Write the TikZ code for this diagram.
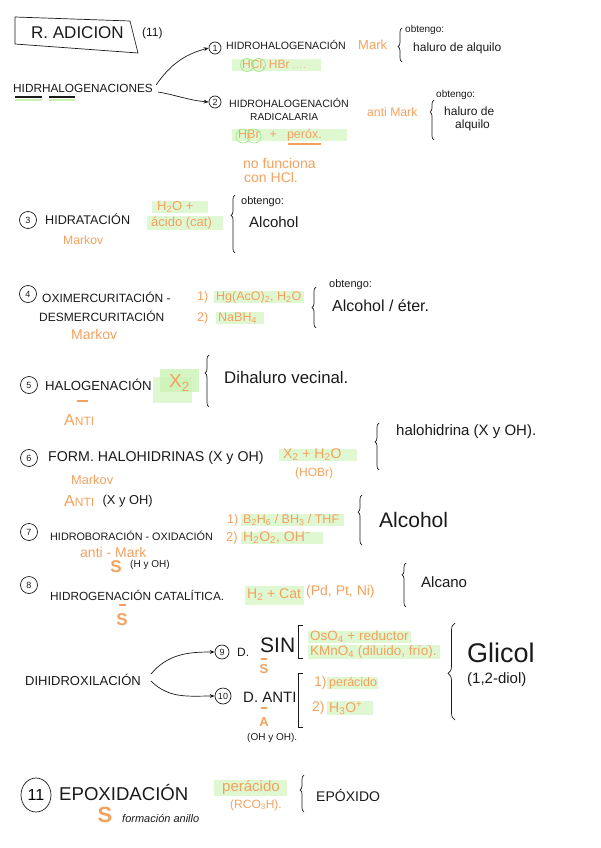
\documentclass[tikz,border=0pt]{standalone}
\usepackage{fontspec}
\setmainfont{Liberation Sans}
\usepackage{tikz}
\usetikzlibrary{arrows.meta,positioning,decorations.pathreplacing,shapes.geometric}
\definecolor{adink}{HTML}{1A1A1A}
\definecolor{adorange}{HTML}{F4A15E}
\definecolor{adlime}{HTML}{E0F8D2}
\definecolor{adlimedark}{HTML}{CBF2B4}
\definecolor{adringc}{HTML}{A6E58A}
\newcommand{\adfs}[1]{\fontsize{#1}{#1}\selectfont}
\newcommand{\adpad}[2]{\makebox[#1][l]{#2}}
\tikzset{
  adtxt/.style={text=adink,inner sep=0pt,anchor=west},
  adnote/.style={adtxt,text=adorange},
  adhl/.style={adnote,fill=adlime,inner xsep=2pt,inner ysep=0.5pt},
  adnum/.style={circle,draw=adink,line width=0.7pt,inner sep=0pt,text=adink,font=\adfs{9}},
  adflow/.style={-{Stealth[length=5pt,width=4pt]},adink,line width=0.7pt},
  adbrace/.style={decorate,decoration={brace,amplitude=4pt,aspect=#1},adink,line width=0.7pt},
  adbrace/.default=0.5,
  adbar/.style={adorange,line width=1.2pt},
  adring/.style={draw=adringc,line width=0.7pt},
  adbrack/.style={adink,line width=0.7pt}
}
\begin{document}
\begin{tikzpicture}[x=1pt,y=-1pt]
  \useasboundingbox (0,0) rectangle (600,848);

  \draw[adbrack] (15,17) -- (130,21) -- (138,53) -- (15,44) -- cycle;
  \node[adtxt,font=\adfs{17}] (title) at (31,33) {R. ADICION};
  \node[adtxt,font=\adfs{12}] (count) at (142,33) {(11)};

  \node[adtxt,font=\adfs{11.8}] (hidr) at (13,88) {HIDRHALOGENACIONES};
  \draw[adlimedark,line width=2pt] (15,100) -- (42,100) (49,100) -- (75,100);
  \draw[adink,line width=1.2pt] (15,97) -- (42,97) (49,97) -- (75,97);

  \node[adnum,minimum size=12pt] (n1) at (215,48) {1};
  \node[adtxt,font=\adfs{10.6}] (hh1) at (226,45) {HIDROHALOGENACIÓN};
  \node[adnote,font=\adfs{13}] (mark1) at (358,45) {Mark};
  \draw[adbrace=0.45] (402,62) -- (402,28);
  \node[adtxt,font=\adfs{10}] (obt1) at (405,30) {obtengo:};
  \node[adtxt,font=\adfs{12}] (halur1) at (413,48) {haluro de alquilo};
  \node[adhl,font=\adfs{12}] (hcl) at (232,65)
    {\adpad{85pt}{\hspace*{8pt}HCl, HBr {\adfs{8}.\,.\,.\,.}}};
  \draw[adring] (247,65) circle (6.5) (259,65) circle (6.5);

  \node[adnum,minimum size=12pt] (n2) at (215,102) {2};
  \node[adtxt,font=\adfs{10.6}] (hh2) at (229,103) {HIDROHALOGENACIÓN};
  \node[adtxt,font=\adfs{10.2}] (radic) at (250,117) {RADICALARIA};
  \node[adnote,font=\adfs{12.2}] (amark2) at (367,112) {anti Mark};
  \draw[adbrace=0.7] (434,140) -- (434,100);
  \node[adtxt,font=\adfs{10}] (obt2) at (436,95) {obtengo:};
  \node[adtxt,font=\adfs{12}] (halur2) at (444,111) {haluro de};
  \node[adtxt,font=\adfs{12}] (alq2) at (455,125) {alquilo};
  \node[adhl,font=\adfs{12.5}] (hbr) at (232,135)
    {\adpad{111pt}{\hspace*{4pt}HBr\hspace{10pt}+\hspace{10pt}peróx.}};
  \draw[adring] (243,136) circle (7) (254,136) circle (7);
  \draw[adbar] (288,144) -- (321,144);
  \node[adnote,font=\adfs{14}] (nofunc) at (243,163) {no funciona};
  \node[adnote,font=\adfs{14}] (conhcl) at (244,177) {con HCl.};

  \draw[adflow] ([xshift=3pt,yshift=3pt]hidr.east) to[out=55,in=195] (n1.west);
  \draw[adflow] ([xshift=5pt,yshift=-4pt]hidr.east) to[out=-10,in=175] (n2.west);

  \node[adnum,minimum size=17pt] (n3) at (28,220) {3};
  \node[adtxt,font=\adfs{12.6}] (hidrat) at (45,219) {HIDRATACIÓN};
  \node[adnote,font=\adfs{12.2}] (mk3) at (63,240) {Markov};
  \node[adhl,font=\adfs{13}] (h2o3) at (152,207) {\adpad{52pt}{\hspace*{3pt}H\textsubscript{2}O +}};
  \node[adhl,font=\adfs{13}] (acid3) at (147,223) {\adpad{72pt}{\hspace*{2pt}ácido (cat)}};
  \draw[adbrace=0.65] (235,253) -- (235,195);
  \node[adtxt,font=\adfs{11}] (obt3) at (241,202) {obtengo:};
  \node[adtxt,font=\adfs{15}] (alc3) at (249,222) {Alcohol};

  \node[adnum,minimum size=17pt] (n4) at (28,294) {4};
  \node[adtxt,font=\adfs{12}] (oxim) at (42,297) {OXIMERCURITACIÓN -};
  \node[adtxt,font=\adfs{12}] (desm) at (39,316) {DESMERCURITACIÓN};
  \node[adnote,font=\adfs{14}] (mk4) at (71,334) {Markov};
  \node[adnote,font=\adfs{12.5}] (st41) at (197,297) {1)};
  \node[adhl,font=\adfs{12.5}] (hg4) at (214,297) {\adpad{86pt}{Hg(AcO)\textsubscript{2}, H\textsubscript{2}O}};
  \node[adnote,font=\adfs{12.5}] (st42) at (197,318) {2)};
  \node[adhl,font=\adfs{12.5}] (nabh4) at (216,318) {\adpad{44pt}{NaBH\textsubscript{4}}};
  \draw[adbrace] (316,328) -- (316,287);
  \node[adtxt,font=\adfs{11}] (obt4) at (329,285) {obtengo:};
  \node[adtxt,font=\adfs{16}] (alc4) at (332,306) {Alcohol / éter.};

  \node[adnum,minimum size=17pt] (n5) at (29,385) {5};
  \node[adtxt,font=\adfs{13.2}] (halog) at (45,385) {HALOGENACIÓN};
  \fill[adlime] (153,377) rectangle (192,403);
  \fill[adlimedark,opacity=0.8] (160,369) rectangle (199,392);
  \node[adnote,font=\adfs{19}] (x5) at (169,383) {X\textsubscript{2}};
  \draw[adbrace=0.65] (209,407) -- (209,355);
  \node[adtxt,font=\adfs{16.8}] (dihal) at (224,377) {Dihaluro vecinal.};
  \draw[adbar] (77,401) -- (88,401);
  \node[adnote,font=\adfs{16}] (anti5) at (64,420) {A{\adfs{12}NTI}};

  \node[adnum,minimum size=17pt] (n6) at (29,458) {6};
  \node[adtxt,font=\adfs{14.2}] (form6) at (48,458) {FORM. HALOHIDRINAS (X y OH)};
  \node[adhl,font=\adfs{14}] (x2h2o) at (279,455) {\adpad{74pt}{\hspace*{2pt}X\textsubscript{2} + H\textsubscript{2}O}};
  \node[adnote,font=\adfs{12}] (hobr) at (295,473) {(HOBr)};
  \draw[adbrace=0.6] (379,470) -- (379,423);
  \node[adtxt,font=\adfs{15}] (halohid) at (396,432) {halohidrina (X y OH).};
  \node[adnote,font=\adfs{12.8}] (mk6) at (71,480) {Markov};
  \node[adnote,font=\adfs{16}] (anti6) at (64,501) {A{\adfs{12}NTI}};
  \node[adtxt,font=\adfs{12.9},right=8pt of anti6] (xyoh6) {(X y OH)};

  \node[adnum,minimum size=17pt] (n7) at (29,532) {7};
  \node[adtxt,font=\adfs{10.8}] (hbor) at (50,536) {HIDROBORACIÓN - OXIDACIÓN};
  \node[adnote,font=\adfs{12.5}] (st71) at (227,520) {1)};
  \node[adhl,font=\adfs{12.5}] (b2h6) at (241,520) {\adpad{99pt}{B\textsubscript{2}H\textsubscript{6} / BH\textsubscript{3} / THF}};
  \node[adnote,font=\adfs{13}] (st72) at (226,538) {2)};
  \node[adhl,font=\adfs{14}] (h2o2) at (241,538) {\adpad{78pt}{H\textsubscript{2}O\textsubscript{2}, OH\textsuperscript{−}}};
  \draw[adbrace=0.66] (362,545) -- (362,495);
  \node[adtxt,font=\adfs{21}] (alc7) at (379,520) {Alcohol};
  \node[adnote,font=\adfs{14}] (amark7) at (80,552) {anti - Mark};
  \node[adnote,font=\adfs{17}\bfseries,anchor=center] (s7) at (116,567) {S};
  \node[adtxt,font=\adfs{10}] (hyoh7) at (130,565) {(H y OH)};

  \node[adnum,minimum size=17pt] (n8) at (29,585) {8};
  \node[adtxt,font=\adfs{11.8}] (hgen8) at (50,595) {HIDROGENACIÓN CATALÍTICA.};
  \node[adhl,minimum height=19pt,font=\adfs{14}] (h2cat) at (245,595) {\adpad{55pt}{H\textsubscript{2} + Cat}};
  \node[adnote,font=\adfs{14}] (pd8) at (306,592) {(Pd, Pt, Ni)};
  \draw[adbrace=0.73] (406,607) -- (406,563);
  \node[adtxt,font=\adfs{15}] (alcano) at (421,582) {Alcano};
  \draw[adbar] (119,605) -- (126,605);
  \node[adnote,font=\adfs{17}\bfseries,anchor=center] (s8) at (122,620) {S};

  \node[adtxt,font=\adfs{13}] (dihid) at (25,680) {DIHIDROXILACIÓN};
  \node[adnum,minimum size=14pt] (n9) at (222,652) {9};
  \node[adtxt,font=\adfs{12}] (d9) at (237,652) {D.};
  \node[adtxt,font=\adfs{21}] (sin9) at (260,645) {SIN};
  \draw[adbrack] (303,625) -- (298,625) -- (298,658) -- (303,658);
  \node[adhl,font=\adfs{13.5}] (oso4) at (308,637) {\adpad{99pt}{OsO\textsubscript{4} + reductor}};
  \node[adhl,font=\adfs{13.5}] (kmno4) at (308,652) {\adpad{128pt}{KMnO\textsubscript{4} (diluido, frío).}};
  \draw[adbar] (261,659) -- (267,659);
  \node[adnote,font=\adfs{13}\bfseries,anchor=center] (s9) at (264,669) {S};
  \node[adnum,minimum size=16pt] (n10) at (223,696) {10};
  \node[adtxt,font=\adfs{15}] (d10) at (243,697) {D. ANTI};
  \draw[adbrack] (303,673) -- (298,673) -- (298,727) -- (303,727);
  \node[adnote,font=\adfs{14}] (st101) at (314,683) {1)};
  \node[adhl,font=\adfs{12.5}] (perac10) at (327,683) {\adpad{47pt}{perácido}};
  \node[adnote,font=\adfs{14}] (st102) at (312,708) {2)};
  \node[adhl,font=\adfs{14}] (h3o) at (327,708) {\adpad{42pt}{H\textsubscript{3}O\textsuperscript{+}}};
  \draw[adbar] (261,708) -- (267,708);
  \node[adnote,font=\adfs{13}\bfseries,anchor=center] (a10) at (264,722) {A};
  \node[adtxt,font=\adfs{10}] (ohyoh) at (247,738) {(OH y OH).};
  \draw[adbrace=0.48,decoration={amplitude=7pt}] (455,720) -- (455,623);
  \node[adtxt,font=\adfs{27}] (glicol) at (467,653) {Glicol};
  \node[adtxt,font=\adfs{15}] (diol) at (467,680) {(1,2-diol)};
  \draw[adflow] ([xshift=10pt,yshift=6pt]dihid.east) to[out=50,in=180] (n9.west);
  \draw[adflow] ([xshift=10pt,yshift=-1pt]dihid.east) to[out=-45,in=180] (n10.west);

  \node[ellipse,draw=adink,line width=0.7pt,minimum width=30pt,minimum height=34pt,inner sep=0pt,font=\adfs{16}] (n11) at (36,795) {11};
  \node[adtxt,font=\adfs{18.6}] (epox) at (59,793) {EPOXIDACIÓN};
  \node[adnote,font=\adfs{22}\bfseries,anchor=center] (s11) at (105,815) {S};
  \node[adtxt,font=\adfs{11}\itshape] (anillo) at (122,818) {formación anillo};
  \node[adhl,font=\adfs{15}] (perac11) at (214,788) {\adpad{69pt}{\hspace*{6pt}perácido}};
  \node[adnote,font=\adfs{12}] (rco3h) at (230,805) {(RCO\textsubscript{3}H).};
  \draw[adbrace=0.6] (304,812) -- (304,775);
  \node[adtxt,font=\adfs{14}] (epoxido) at (316,795) {EPÓXIDO};
\end{tikzpicture}
\end{document}
